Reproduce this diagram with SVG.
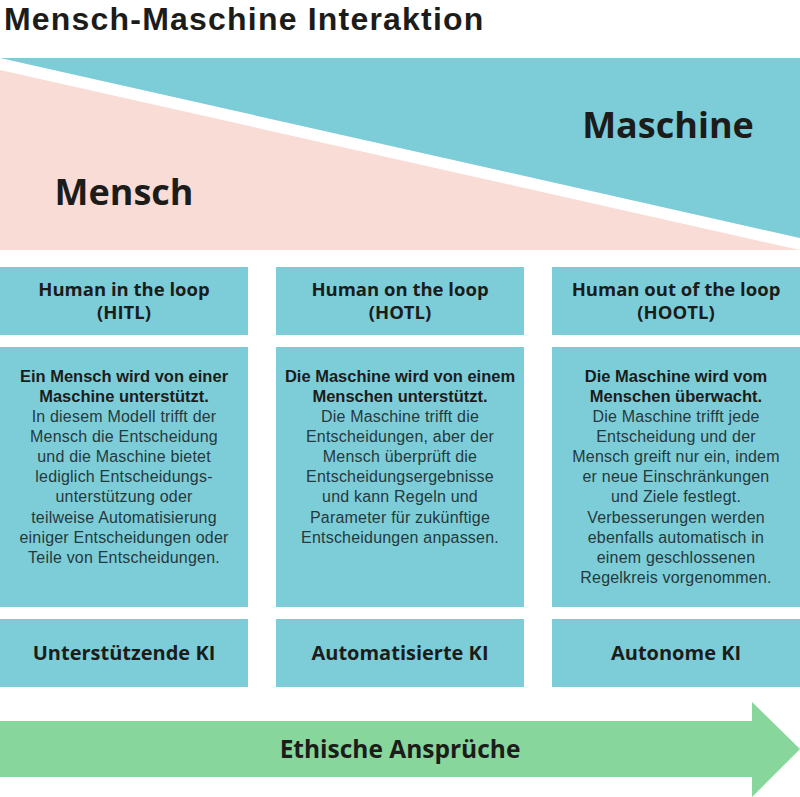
<svg xmlns="http://www.w3.org/2000/svg" width="800" height="797" viewBox="0 0 800 797">
<style>
  text { font-family: "Open Sans", "Liberation Sans", sans-serif; fill: #1c1c1a; text-anchor: middle; }
  .title { font-family: "Liberation Sans", Arial, sans-serif; font-size: 32px; font-weight: bold; text-anchor: start; letter-spacing: 1.2px; }
  .big { font-size: 36px; font-weight: bold; }
  .head { font-size: 18.5px; font-weight: bold; }
  .bold { font-family: "Liberation Sans", Arial, sans-serif; font-size: 16.5px; font-weight: bold; }
  .body { font-family: "Liberation Sans", Arial, sans-serif; font-size: 16px; fill: #26393c; letter-spacing: 0.2px; }
  .foot { font-size: 20px; font-weight: bold; }
  .arrowlbl { font-size: 24.5px; font-weight: bold; }
  .box { fill: #7dcdd9; }
</style>
<rect width="800" height="797" fill="#ffffff"/>
<text class="title" x="4" y="30">Mensch-Maschine Interaktion</text>

<g id="band-maschine">
  <polygon points="0,58 800,58 800,238" fill="#7dcdd9"/>
  <text class="big" x="668" y="138">Maschine</text>
</g>
<g id="band-mensch">
  <polygon points="0,70 800,250 0,250" fill="#fadcd6"/>
  <text class="big" x="124" y="205">Mensch</text>
</g>

<g id="hitl-head">
  <rect class="box" x="0" y="267" width="248" height="68"/>
  <text class="head" x="124" y="296">Human in the loop</text>
  <text class="head" x="124" y="319">(HITL)</text>
</g>
<g id="hotl-head">
  <rect class="box" x="276" y="267" width="248" height="68"/>
  <text class="head" x="400" y="296">Human on the loop</text>
  <text class="head" x="400" y="319">(HOTL)</text>
</g>
<g id="hootl-head">
  <rect class="box" x="552" y="267" width="248" height="68"/>
  <text class="head" x="676" y="296">Human out of the loop</text>
  <text class="head" x="676" y="319">(HOOTL)</text>
</g>

<g id="hitl-body">
  <rect class="box" x="0" y="347" width="248" height="260"/>
  <text class="bold" x="124" y="382">Ein Mensch wird von einer</text>
  <text class="bold" x="124" y="402">Maschine unterstützt.</text>
  <text class="body" x="124" y="422">In diesem Modell trifft der</text>
  <text class="body" x="124" y="442">Mensch die Entscheidung</text>
  <text class="body" x="124" y="462">und die Maschine bietet</text>
  <text class="body" x="124" y="482">lediglich Entscheidungs-</text>
  <text class="body" x="124" y="502">unterstützung oder</text>
  <text class="body" x="124" y="523">teilweise Automatisierung</text>
  <text class="body" x="124" y="543">einiger Entscheidungen oder</text>
  <text class="body" x="124" y="563">Teile von Entscheidungen.</text>
</g>
<g id="hotl-body">
  <rect class="box" x="276" y="347" width="248" height="260"/>
  <text class="bold" x="400" y="382">Die Maschine wird von einem</text>
  <text class="bold" x="400" y="402">Menschen unterstützt.</text>
  <text class="body" x="400" y="422">Die Maschine trifft die</text>
  <text class="body" x="400" y="442">Entscheidungen, aber der</text>
  <text class="body" x="400" y="462">Mensch überprüft die</text>
  <text class="body" x="400" y="482">Entscheidungsergebnisse</text>
  <text class="body" x="400" y="502">und kann Regeln und</text>
  <text class="body" x="400" y="523">Parameter für zukünftige</text>
  <text class="body" x="400" y="543">Entscheidungen anpassen.</text>
</g>
<g id="hootl-body">
  <rect class="box" x="552" y="347" width="248" height="260"/>
  <text class="bold" x="676" y="382">Die Maschine wird vom</text>
  <text class="bold" x="676" y="402">Menschen überwacht.</text>
  <text class="body" x="676" y="422">Die Maschine trifft jede</text>
  <text class="body" x="676" y="442">Entscheidung und der</text>
  <text class="body" x="676" y="462">Mensch greift nur ein, indem</text>
  <text class="body" x="676" y="482">er neue Einschränkungen</text>
  <text class="body" x="676" y="502">und Ziele festlegt.</text>
  <text class="body" x="676" y="523">Verbesserungen werden</text>
  <text class="body" x="676" y="543">ebenfalls automatisch in</text>
  <text class="body" x="676" y="563">einem geschlossenen</text>
  <text class="body" x="676" y="583">Regelkreis vorgenommen.</text>
</g>

<g id="hitl-foot">
  <rect class="box" x="0" y="619" width="248" height="68"/>
  <text class="foot" x="124" y="660">Unterstützende KI</text>
</g>
<g id="hotl-foot">
  <rect class="box" x="276" y="619" width="248" height="68"/>
  <text class="foot" x="400" y="660">Automatisierte KI</text>
</g>
<g id="hootl-foot">
  <rect class="box" x="552" y="619" width="248" height="68"/>
  <text class="foot" x="676" y="660">Autonome KI</text>
</g>

<g id="ethik-arrow">
  <polygon points="0,721 752,721 752,702 800,749 752,797 752,777 0,777" fill="#87d69b"/>
  <text class="arrowlbl" x="400" y="758">Ethische Ansprüche</text>
</g>
</svg>
